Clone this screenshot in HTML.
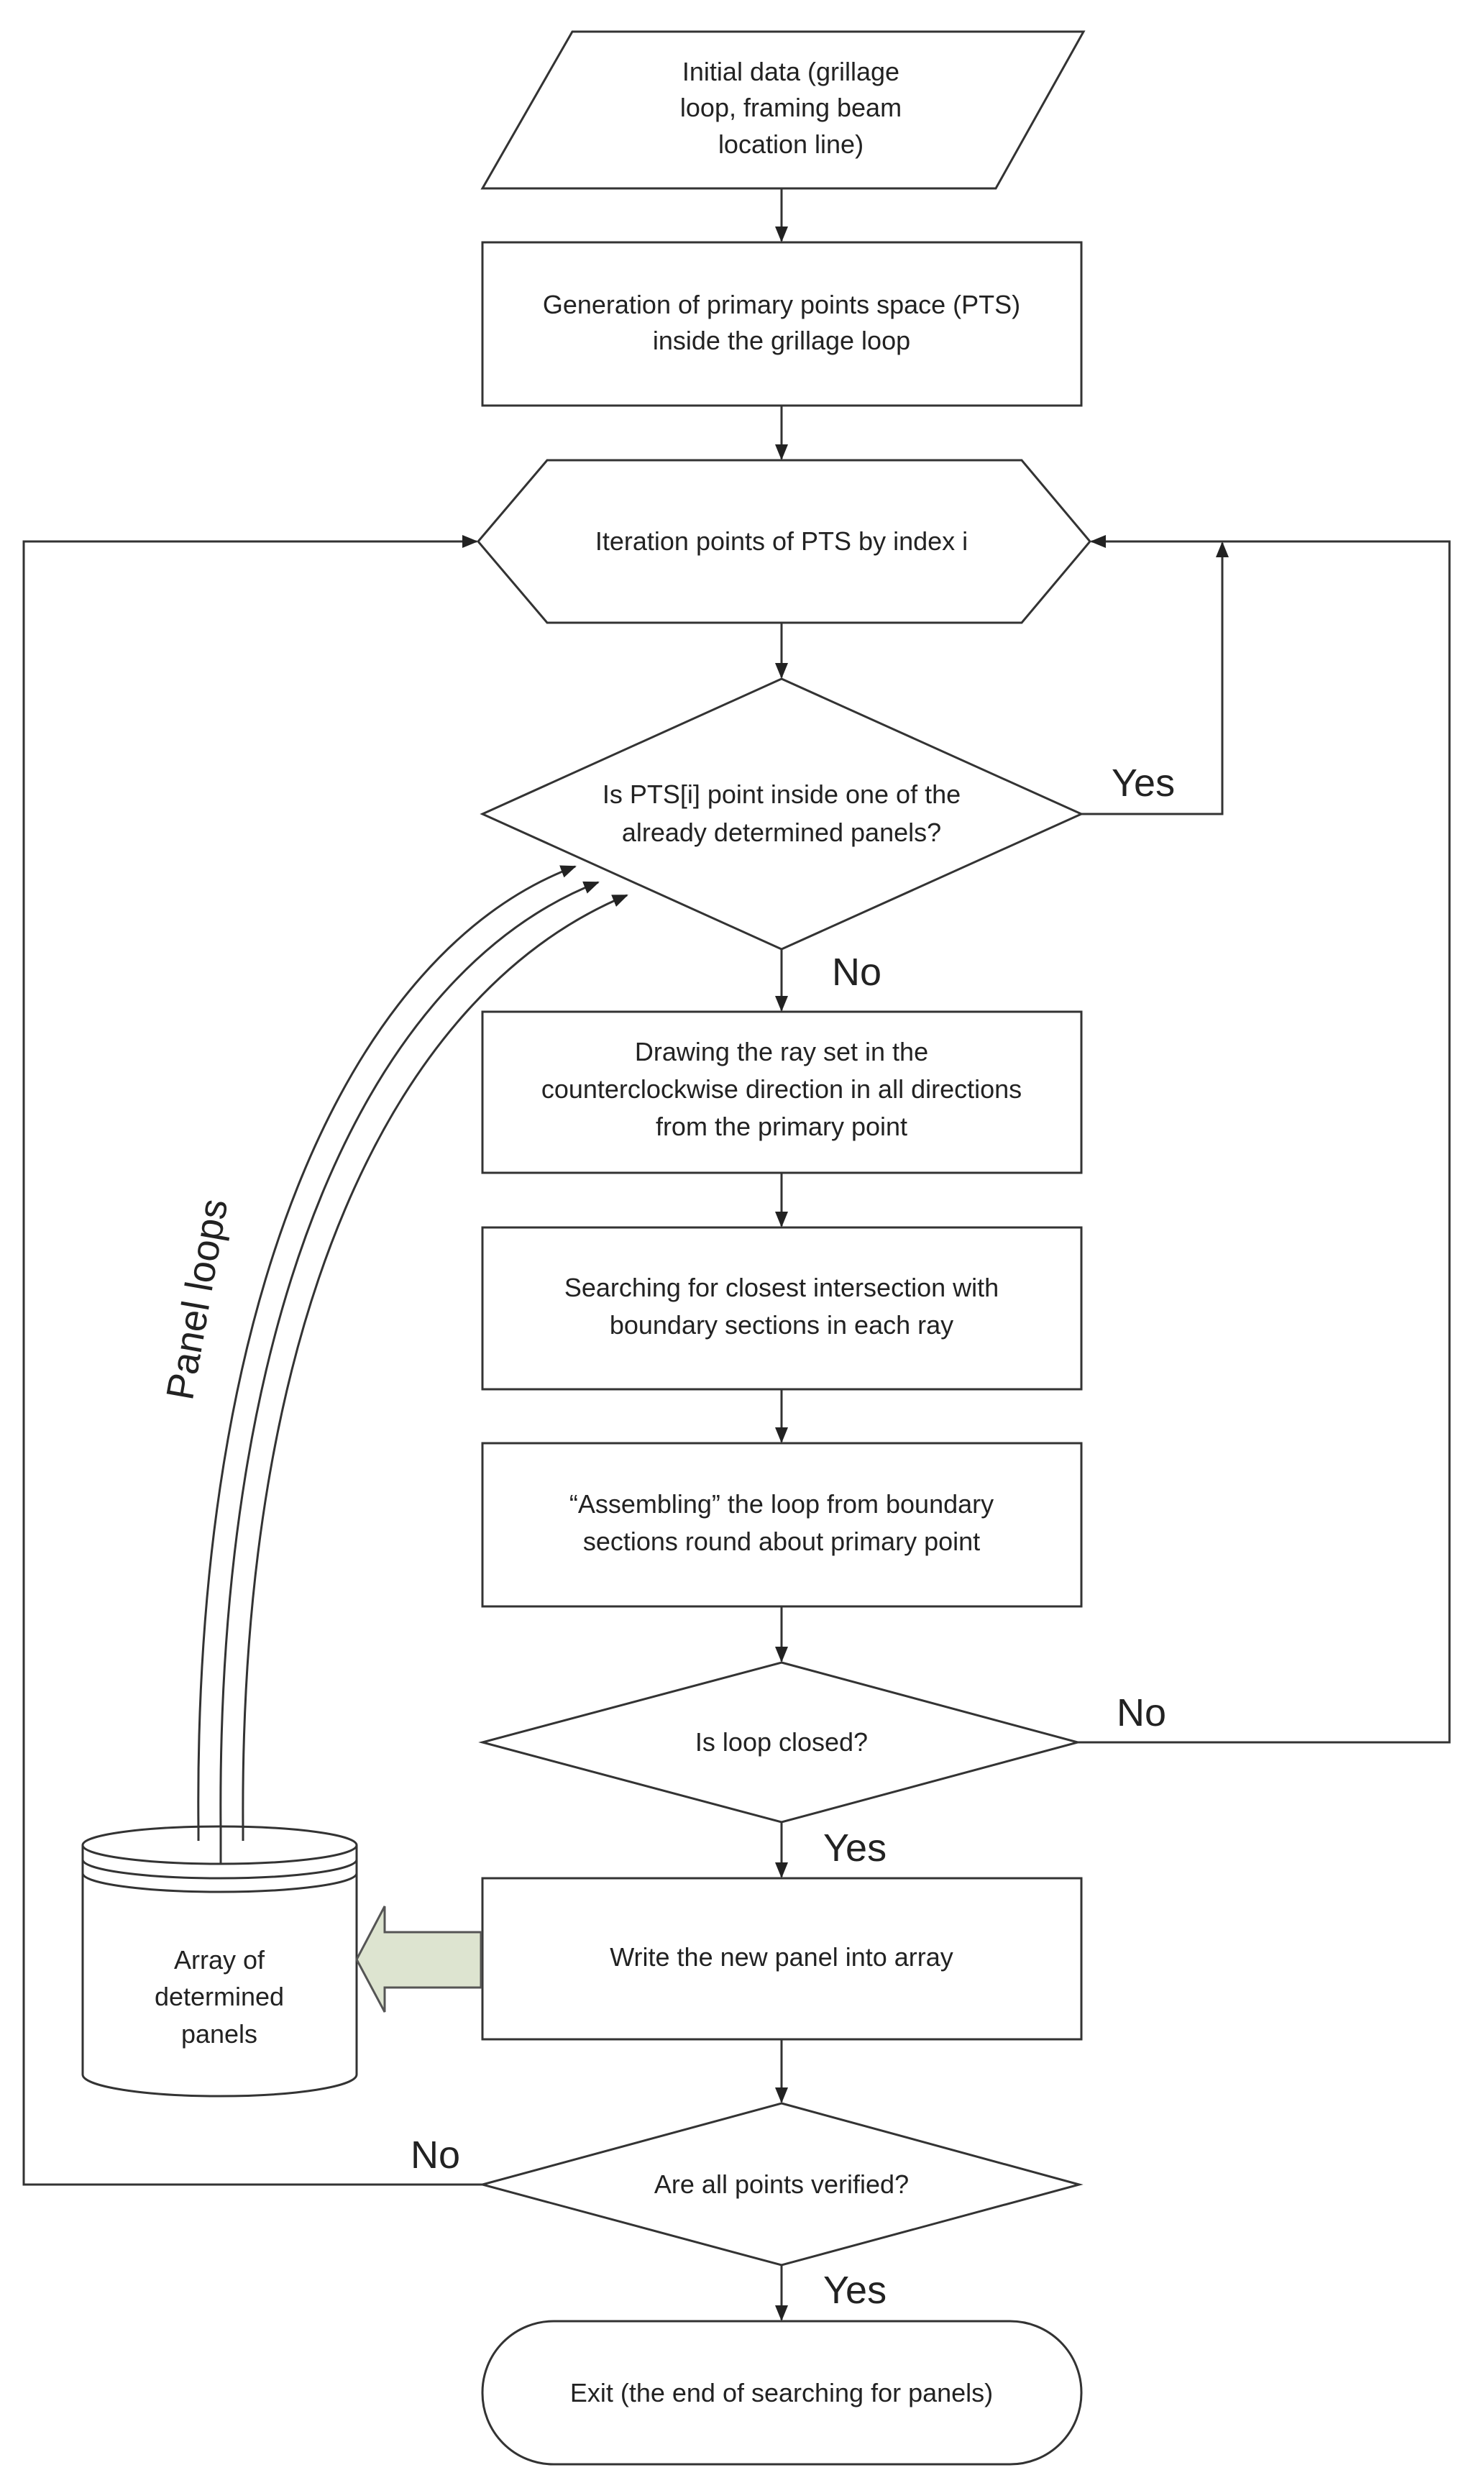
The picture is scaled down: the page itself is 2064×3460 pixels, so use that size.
<!DOCTYPE html>
<html><head><meta charset="utf-8"><style>
html,body{margin:0;padding:0;background:#fff;}
svg{display:block;}
text{font-family:"Liberation Sans",Arial,sans-serif;fill:#222;}
</style></head><body>
<svg width="2064" height="3460" viewBox="0 0 2064 3460" xmlns="http://www.w3.org/2000/svg">
<defs>
<marker id="b" markerWidth="22" markerHeight="22" refX="20" refY="11" orient="auto" markerUnits="userSpaceOnUse" viewBox="0 0 22 22">
<path d="M0,2 L22,11 L0,20 z" fill="#222"/></marker>
</defs>
<g stroke="#333" stroke-width="3" fill="#fff">
<polygon points="796,44 1507,44 1385,262 671,262"/>
<rect x="671" y="337" width="833" height="227"/>
<polygon points="665,753 761,640 1421,640 1516,753 1421,866 761,866"/>
<polygon points="1087,944 1504,1132 1087,1320 671,1132"/>
<rect x="671" y="1407" width="833" height="224"/>
<rect x="671" y="1707" width="833" height="225"/>
<rect x="671" y="2007" width="833" height="227"/>
<polygon points="1087,2312 1499,2423 1087,2534 671,2423"/>
<rect x="671" y="2612" width="833" height="224"/>
<polygon points="1087,2925 1501,3038 1087,3150 671,3038"/>
<rect x="671" y="3228" width="833" height="199" rx="99"/>
</g>
<g stroke="#333" stroke-width="3" fill="none">
<line x1="1087" y1="262" x2="1087" y2="335" marker-end="url(#b)"/>
<line x1="1087" y1="564" x2="1087" y2="638" marker-end="url(#b)"/>
<line x1="1087" y1="866" x2="1087" y2="942" marker-end="url(#b)"/>
<line x1="1087" y1="1320" x2="1087" y2="1405" marker-end="url(#b)"/>
<line x1="1087" y1="1631" x2="1087" y2="1705" marker-end="url(#b)"/>
<line x1="1087" y1="1932" x2="1087" y2="2005" marker-end="url(#b)"/>
<line x1="1087" y1="2234" x2="1087" y2="2310" marker-end="url(#b)"/>
<line x1="1087" y1="2534" x2="1087" y2="2610" marker-end="url(#b)"/>
<line x1="1087" y1="2836" x2="1087" y2="2923" marker-end="url(#b)"/>
<line x1="1087" y1="3150" x2="1087" y2="3226" marker-end="url(#b)"/>
<polyline points="1504,1132 1700,1132 1700,755" marker-end="url(#b)"/>
<polyline points="1499,2423 2016,2423 2016,753 1518,753" marker-end="url(#b)"/>
<polyline points="671,3038 33,3038 33,753 663,753" marker-end="url(#b)"/>
<path d="M276,2545 C268,1800 490,1320 800,1205" marker-end="url(#b)"/>
<path d="M307,2545 C300,1820 515,1350 832,1227" marker-end="url(#b)"/>
<path d="M338,2545 C332,1840 545,1380 872,1245" marker-end="url(#b)"/>
</g>
<g stroke="#333" stroke-width="3" fill="#fff">
<path d="M115,2566 L115,2885 A190.5,30 0 0 0 496,2885 L496,2566"/>
<ellipse cx="305.5" cy="2566" rx="190.5" ry="26"/>
<path d="M115,2586 A190.5,26 0 0 0 496,2586" fill="none"/>
<path d="M115,2605 A190.5,26 0 0 0 496,2605" fill="none"/>
</g>
<g stroke="#333" stroke-width="3">
<line x1="276" y1="2540" x2="276" y2="2560"/>
<line x1="307" y1="2540" x2="307" y2="2592"/>
<line x1="338" y1="2540" x2="338" y2="2560"/>
</g>
<polygon points="669,2687 535,2687 535,2651 496,2725 535,2798 535,2764 669,2764" fill="#dde4d0" stroke="#555" stroke-width="3"/>
<g font-size="36" text-anchor="middle">
<text x="1100" y="112">Initial data (grillage</text>
<text x="1100" y="162">loop, framing beam</text>
<text x="1100" y="213">location line)</text>
<text x="1087" y="436">Generation of primary points space (PTS)</text>
<text x="1087" y="486">inside the grillage loop</text>
<text x="1087" y="765">Iteration points of PTS by index i</text>
<text x="1087" y="1117">Is PTS[i] point inside one of the</text>
<text x="1087" y="1170">already determined panels?</text>
<text x="1087" y="1475">Drawing the ray set in the</text>
<text x="1087" y="1527">counterclockwise direction in all directions</text>
<text x="1087" y="1579">from the primary point</text>
<text x="1087" y="1803">Searching for closest intersection with</text>
<text x="1087" y="1855">boundary sections in each ray</text>
<text x="1087" y="2104">“Assembling” the loop from boundary</text>
<text x="1087" y="2156">sections round about primary point</text>
<text x="1087" y="2435">Is loop closed?</text>
<text x="1087" y="2734">Write the new panel into array</text>
<text x="1087" y="3050">Are all points verified?</text>
<text x="1087" y="3340">Exit (the end of searching for panels)</text>
<text x="305" y="2738">Array of</text>
<text x="305" y="2789">determined</text>
<text x="305" y="2841">panels</text>
</g>
<g font-size="54">
<text x="1546" y="1107">Yes</text>
<text x="1157" y="1370">No</text>
<text x="1553" y="2400">No</text>
<text x="1145" y="2588">Yes</text>
<text x="571" y="3015">No</text>
<text x="1145" y="3203">Yes</text>
<text x="0" y="0" transform="translate(292,1810) rotate(-80)" text-anchor="middle">Panel   loops</text>
</g>
</svg>
</body></html>
